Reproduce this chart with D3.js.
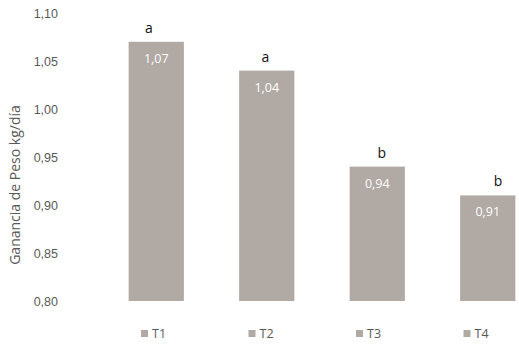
<!DOCTYPE html>
<html>
<head>
<meta charset="utf-8">
<script src="https://cdn.jsdelivr.net/npm/d3@7"></script>
<style>
  body { margin: 0; background: #fff; }
  svg { display: block; font-family: "Open Sans", "Liberation Sans", sans-serif; }
</style>
</head>
<body>
<svg width="519" height="349"></svg>
<script>
const treatments = ["T1", "T2", "T3", "T4"];
const gain = [1.07, 1.04, 0.94, 0.91];
const letters = ["a", "a", "b", "b"];
const yTicks = [0.80, 0.85, 0.90, 0.95, 1.00, 1.05, 1.10];

const svg = d3.select("svg");
const barColor = "#b1a9a3";
const textColor = "#595959";
const fmt = v => d3.format(".2f")(v).replace(".", ",");

const x = d3.scaleBand().domain(treatments).range([101, 543]).paddingInner(0.5).paddingOuter(0.25);
const y = d3.scaleLinear().domain([0.80, 1.10]).range([301, 13]);
// significance letters sit on their own evenly spaced layer, drifting right of the bars
const xLetter = d3.scalePoint().domain(treatments).range([149, 498]);

/* y axis labels only, no line */
const yAxis = d3.axisLeft(y).tickValues(yTicks).tickFormat(fmt).tickSize(0).tickPadding(0);
const gy = svg.append("g").attr("transform", "translate(58,0)").call(yAxis);
gy.select(".domain").remove();
gy.selectAll("text").attr("fill", textColor).style("font-size", "12.5px").style("font-family", "inherit");

svg.append("text")
  .attr("transform", "translate(20,185) rotate(-90)")
  .attr("text-anchor", "middle")
  .attr("fill", textColor)
  .style("font-size", "14px")
  .text("Ganancia de Peso kg/día");

/* bars */
const g = svg.append("g");
treatments.forEach((t, i) => {
  g.append("rect")
    .attr("x", x(t))
    .attr("y", y(gain[i]))
    .attr("width", x.bandwidth())
    .attr("height", y(0.80) - y(gain[i]))
    .attr("fill", barColor);

  g.append("text")
    .attr("x", x(t) + x.bandwidth() / 2)
    .attr("y", y(gain[i]) + 21)
    .attr("text-anchor", "middle")
    .attr("fill", "#fff")
    .style("font-size", "12.5px")
    .text(fmt(gain[i]));

  g.append("text")
    .attr("x", xLetter(t))
    .attr("y", y(gain[i]) - 9)
    .attr("text-anchor", "middle")
    .attr("fill", "#111")
    .style("font-size", "14px")
    .text(letters[i]);
});

/* legend */
const legend = svg.append("g");
treatments.forEach((t, i) => {
  const lx = 141 + i * 107.5;
  legend.append("rect")
    .attr("x", lx).attr("y", 330)
    .attr("width", 7).attr("height", 7)
    .attr("fill", barColor);
  legend.append("text")
    .attr("x", lx + 11).attr("y", 338)
    .attr("fill", textColor)
    .style("font-size", "12.5px")
    .text(t);
});
</script>
</body>
</html>
